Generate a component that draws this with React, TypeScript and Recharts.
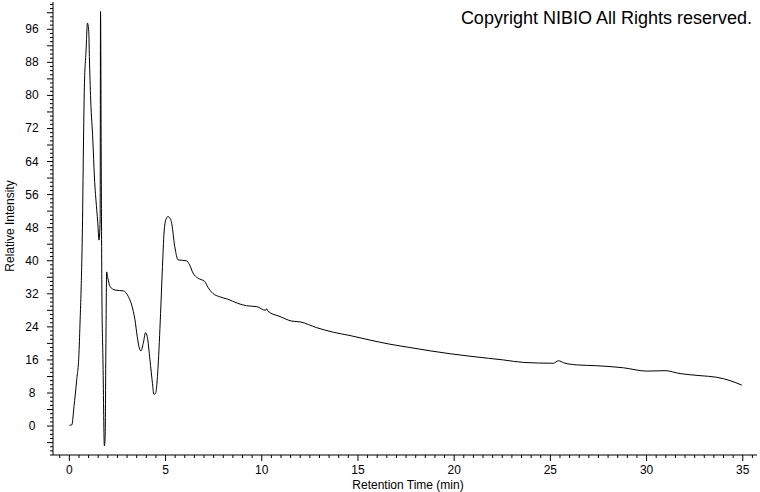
import React from 'react'
import { LineChart, Line, XAxis, YAxis } from 'recharts'

// retention time (min)
const times = [
  0, 0.13, 0.24, 0.38, 0.5, 0.56, 0.61, 0.68, 0.73, 0.78, 0.87, 0.94, 1.01, 1.04, 1.11, 1.22, 1.3, 1.42, 1.48, 1.54, 1.6,
  1.62, 1.66, 1.69, 1.75, 1.82, 1.86, 1.9, 1.94,
  2.0, 2.12, 2.38, 2.81, 3.07, 3.24, 3.41, 3.53, 3.67, 3.72, 3.84, 3.96, 4.05, 4.19, 4.32, 4.39, 4.48, 4.61, 4.74, 4.84,
  4.92, 5.02, 5.13, 5.22, 5.3, 5.48, 5.65, 6.08, 6.25, 6.43, 6.68, 7.03, 7.2, 7.46, 7.8, 8.23, 8.75, 9.22, 9.74, 10.2,
  10.26, 10.32, 10.95, 11.56, 12.0, 12.86, 13.72, 14.59, 15.63, 16.67, 17.71, 18.75, 19.79, 20.82, 21.78, 22.56, 23.6,
  25.16, 25.42, 25.7, 26.37, 27.41, 28.8, 30.01, 30.96, 31.74, 32.78, 33.65, 34.34, 34.95,
]

// relative intensity
const intensity = [
  0.2, 0.3, 4.7, 11.1, 17.6, 25.7, 32.9, 48, 66.8, 82, 91, 97.5, 95.4, 89.4, 78.9, 69.2, 60.5, 52.5, 49, 45, 49.9,
  100.3, 60, 33, 15, -4.8, -2.5, 20, 37.3,
  35.8, 33.7, 32.9, 32.7, 31.3, 29.3, 25.7, 21.6, 18.4, 18.2, 20.0, 22.6, 21.6, 16.0, 10.3, 7.7, 7.9, 14.3, 27.2, 38.6,
  46.7, 50.0, 50.7, 50.3, 49.5, 43.4, 40.2, 40.0, 39.0, 37.0, 35.8, 35.0, 33.6, 32.1, 31.3, 30.7, 29.7, 29.1, 28.9, 28.0,
  28.4, 27.8, 26.5, 25.4, 25.2, 23.8, 22.7, 21.9, 20.8, 19.8, 19.0, 18.2, 17.5, 16.9, 16.4, 16.0, 15.4,
  15.2, 15.8, 15.3, 14.8, 14.6, 14.1, 13.3, 13.4, 12.7, 12.2, 11.8, 11.0, 9.9,
]

const xLabels = [0, 5, 10, 15, 20, 25, 30, 35]
const yLabels = [0, 8, 16, 24, 32, 40, 48, 56, 64, 72, 80, 88, 96]

const xTicks = Array.from({ length: 73 }, (_, i) => -0.5 + i * 0.5)
const yTicks = Array.from({ length: 110 }, (_, i) => -7 + i)

const data = times.map((t, i) => ({ t, v: intensity[i] }))

const font = '"Liberation Sans", Arial, sans-serif'

const XTick = ({ x, y, payload }: any) => {
  const major = xLabels.includes(payload.value)
  return (
    <g>
      <line x1={x} x2={x} y1={y} y2={y + (major ? 6 : 3)} stroke="#000" />
      {major && (
        <text x={x} y={y + 19} textAnchor="middle" fontFamily={font} fontSize={12} fill="#000">
          {payload.value}
        </text>
      )}
    </g>
  )
}

const YTick = ({ x, y, payload }: any) => {
  const v = payload.value
  const len = v % 4 === 0 ? 6 : 3
  return (
    <g>
      <line x1={x - len} x2={x} y1={y} y2={y} stroke="#000" />
      {yLabels.includes(v) && (
        <text x={x - 21} y={y + 4} textAnchor="middle" fontFamily={font} fontSize={12} fill="#000">
          {v}
        </text>
      )}
    </g>
  )
}

export default function App() {
  return (
    <div style={{ position: 'absolute', left: 0, top: 0, width: 760, height: 492, background: '#fff' }}>
      <LineChart width={760} height={492} data={data} margin={{ top: 2, right: 3, bottom: 0, left: 0 }}>
        <XAxis
          dataKey="t"
          type="number"
          domain={[-0.85, 35.74]}
          allowDataOverflow
          ticks={xTicks}
          interval={0}
          height={37}
          tickSize={0}
          tickMargin={0}
          tick={<XTick />}
          axisLine={{ stroke: '#000' }}
          tickLine={false}
        />
        <YAxis
          type="number"
          domain={[-7, 102.6]}
          allowDataOverflow
          ticks={yTicks}
          interval={0}
          width={53}
          tickSize={0}
          tickMargin={0}
          tick={<YTick />}
          axisLine={{ stroke: '#000' }}
          tickLine={false}
        />
        <Line
          dataKey="v"
          type="monotone"
          stroke="#000"
          strokeWidth={1}
          dot={false}
          isAnimationActive={false}
        />
      </LineChart>
      <svg width={760} height={492} style={{ position: 'absolute', left: 0, top: 0, pointerEvents: 'none' }}>
        <text x={752} y={24} textAnchor="end" fontFamily={font} fontSize={18} fill="#000">
          Copyright NIBIO All Rights reserved.
        </text>
        <text x={408} y={489} textAnchor="middle" fontFamily={font} fontSize={12} fill="#000">
          Retention Time (min)
        </text>
        <text
          x={14}
          y={226}
          textAnchor="middle"
          fontFamily={font}
          fontSize={12}
          fill="#000"
          transform="rotate(-90 14 226)"
        >
          Relative Intensity
        </text>
      </svg>
    </div>
  )
}
